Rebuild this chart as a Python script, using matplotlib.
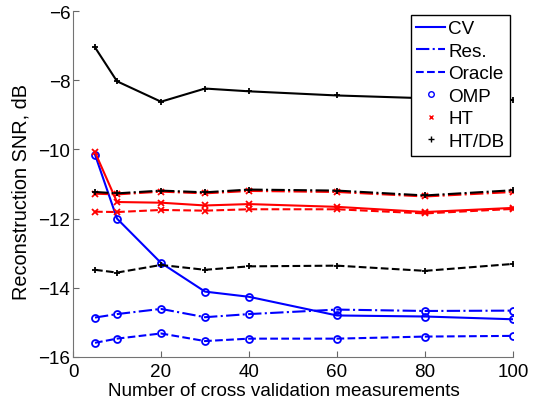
"""Reconstruction SNR against the number of cross validation measurements."""
import matplotlib
matplotlib.use("Agg")

import matplotlib.pyplot as plt
from matplotlib.lines import Line2D

plt.rcParams["font.family"] = ["Liberation Sans", "DejaVu Sans"]

# number of cross validation measurements
n_cv = [5, 10, 20, 30, 40, 60, 80, 100]

# OMP
omp_cv = [-10.15, -12.0, -13.28, -14.11, -14.26, -14.80, -14.83, -14.91]
omp_res = [-14.86, -14.76, -14.61, -14.85, -14.76, -14.63, -14.67, -14.66]
omp_oracle = [-15.59, -15.47, -15.32, -15.54, -15.47, -15.47, -15.41, -15.39]

# HT
ht_cv = [-10.08, -11.52, -11.54, -11.62, -11.58, -11.66, -11.81, -11.69]
ht_res = [-11.28, -11.30, -11.22, -11.27, -11.20, -11.23, -11.36, -11.23]
ht_oracle = [-11.80, -11.81, -11.75, -11.77, -11.73, -11.73, -11.85, -11.72]

# HT/DB
htdb_cv = [-7.05, -8.03, -8.62, -8.24, -8.32, -8.44, -8.52, -8.57]
htdb_res = [-11.23, -11.27, -11.19, -11.24, -11.16, -11.19, -11.33, -11.18]
htdb_oracle = [-13.48, -13.56, -13.34, -13.48, -13.38, -13.36, -13.51, -13.31]

BLUE = "#0000ff"
RED = "#ff0000"
BLACK = "#000000"
FS = 13.6

fig = plt.figure(figsize=(5.38, 4.02), dpi=100)
ax = fig.add_axes([0.1357, 0.1095, 0.8178, 0.8605])

series = [
    (omp_cv, BLUE, "-", "o"), (omp_res, BLUE, "-.", "o"), (omp_oracle, BLUE, "--", "o"),
    (ht_cv, RED, "-", "x"), (ht_res, RED, "-.", "x"), (ht_oracle, RED, "--", "x"),
    (htdb_cv, BLACK, "-", "+"), (htdb_res, BLACK, "-.", "+"), (htdb_oracle, BLACK, "--", "+"),
]
for vals, col, ls, mk in series:
    ax.plot(n_cv, vals, color=col, ls=ls, lw=1.5, marker=mk, ms=5,
            mfc="none", mec=col, mew=1.3)

ax.set_xlim(0, 100)
ax.set_ylim(-16, -6)
ax.set_xticks(range(0, 101, 20))
ax.set_yticks(range(-16, -5, 2))
ax.tick_params(direction="in", length=4, labelsize=FS, color="0.4", pad=2)
ax.tick_params(axis="x", pad=4)
for s in ("top", "right"):
    ax.spines[s].set_visible(False)
for s in ("left", "bottom"):
    ax.spines[s].set_color("0.45")
ax.set_xlabel("Number of cross validation measurements", fontsize=FS)
ax.set_ylabel("Reconstruction SNR, dB", fontsize=14.3)
ax.xaxis.set_label_coords(0.48, -0.072)
ax.yaxis.set_label_coords(-0.097, 0.48)

handles = [
    Line2D([], [], color=BLUE, ls="-", lw=1.5),
    Line2D([], [], color=BLUE, ls="-.", lw=1.5),
    Line2D([], [], color=BLUE, ls="--", lw=1.5),
    Line2D([], [], color=BLUE, ls="none", marker="o", ms=4, mfc="none", mew=1),
    Line2D([], [], color=RED, ls="none", marker="x", ms=3.5, mew=1),
    Line2D([], [], color=BLACK, ls="none", marker="+", ms=5, mew=1),
]
labels = ["CV", "Res.", "Oracle", "OMP", "HT", "HT/DB"]
leg = ax.legend(handles, labels, loc="upper right", bbox_to_anchor=(0.9935, 0.99),
                fontsize=FS, fancybox=False, framealpha=1, edgecolor="black",
                handlelength=1.55, handletextpad=0.15, labelspacing=0.28,
                borderpad=0.3, borderaxespad=0)
leg.get_frame().set_linewidth(1.0)

fig.savefig("out.png", dpi=100, facecolor="white")
